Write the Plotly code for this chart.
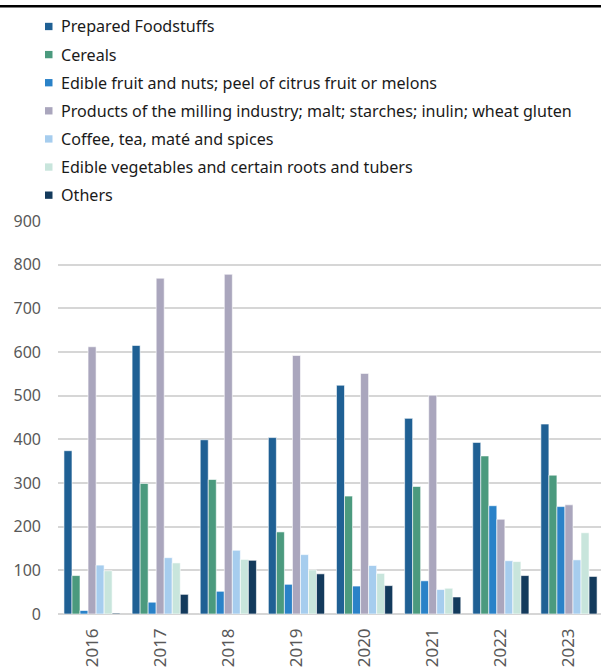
import plotly.graph_objects as go

# Years on the category axis
years = ["2016", "2017", "2018", "2019", "2020", "2021", "2022", "2023"]

# Import values per product group
prepared_foodstuffs = [374, 615, 399, 404, 524, 448, 393, 435]
cereals = [88, 299, 308, 188, 270, 292, 362, 318]
edible_fruit_nuts = [8, 27, 52, 68, 64, 76, 248, 246]
milling_products = [612, 769, 778, 592, 551, 501, 217, 250]
coffee_tea_spices = [112, 129, 146, 136, 111, 56, 122, 124]
edible_vegetables = [99, 117, 125, 101, 93, 59, 120, 186]
others = [2, 45, 123, 92, 65, 39, 88, 86]

series_names = [
    "Prepared Foodstuffs",
    "Cereals",
    "Edible fruit and nuts; peel of citrus fruit or melons",
    "Products of the milling industry; malt; starches; inulin; wheat gluten",
    "Coffee, tea, maté and spices",
    "Edible vegetables and certain roots and tubers",
    "Others",
]
series_values = [
    prepared_foodstuffs, cereals, edible_fruit_nuts, milling_products,
    coffee_tea_spices, edible_vegetables, others,
]
series_colors = [
    "#1f6094", "#4b9a7e", "#2a82c8", "#aaa6bd", "#a6cdee", "#c8e5dc", "#133a5c",
]

W, H = 601, 667
L, R, T, B = 58, 0, 221, 49
plot_w = W - L - R
plot_h = H - T - B


def px_x(px):
    return (px - L) / plot_w


def px_y(py):
    return (H - B - py) / plot_h


fig = go.Figure()
for name, vals, col in zip(series_names, series_values, series_colors):
    fig.add_trace(go.Bar(
        x=years, y=vals, name=name,
        marker=dict(color=col, line=dict(color="white", width=0.6)),
        showlegend=False,
    ))

# Legend drawn as squares and labels above the plot area
legend_font = dict(family="Noto Sans", size=16.1, color="#1a1a1a")
shapes = []
annotations = []
for i, (name, col) in enumerate(zip(series_names, series_colors)):
    cy = 24.5 + i * 28.4
    shapes.append(dict(
        type="rect", xref="paper", yref="paper",
        x0=px_x(45), x1=px_x(52.5), y0=px_y(cy - 3.7), y1=px_y(cy + 3.7),
        fillcolor=col, line=dict(width=0),
    ))
    annotations.append(dict(
        text=name, xref="paper", yref="paper",
        x=px_x(58.5), y=px_y(cy), xanchor="left", yanchor="middle",
        showarrow=False, font=legend_font,
    ))

# Heavy rule across the top
shapes.append(dict(
    type="line", xref="paper", yref="paper",
    x0=px_x(0), x1=px_x(W), y0=px_y(4), y1=px_y(4),
    line=dict(color="black", width=2.5),
))

fig.update_layout(
    width=W, height=H,
    margin=dict(l=L, r=R, t=T, b=B, pad=0),
    paper_bgcolor="white", plot_bgcolor="white",
    barmode="group", bargap=0.175, bargroupgap=0,
    shapes=shapes, annotations=annotations,
    font=dict(family="Noto Sans", color="#595959"),
)
fig.update_xaxes(
    range=[-0.5, 7.47], tickangle=-90,
    tickfont=dict(family="Noto Sans", size=17, color="#595959"),
    ticklabelstandoff=10, showgrid=False, showline=False, zeroline=False,
)
fig.update_yaxes(
    range=[0, 900], dtick=100,
    tickfont=dict(family="Noto Sans", size=16, color="#595959"),
    ticklabelstandoff=16,
    showgrid=True, gridcolor="#d6d6d6", gridwidth=1.5,
    zeroline=True, zerolinecolor="#d6d6d6", zerolinewidth=1.8,
)

fig.write_html("out.html")
